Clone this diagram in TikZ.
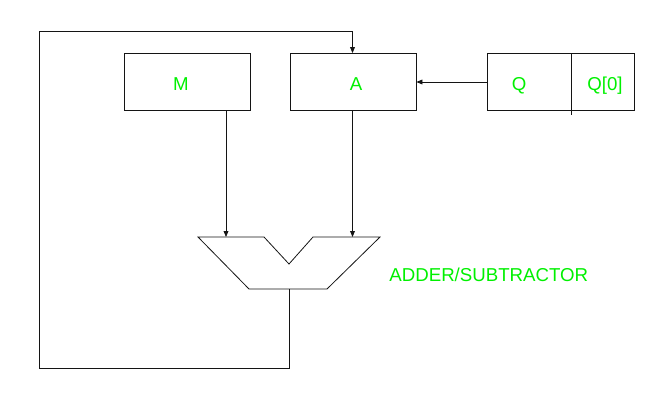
\documentclass[tikz,border=0pt]{standalone}
\usepackage{fontspec}
\setmainfont{Liberation Sans}
\usetikzlibrary{arrows.meta}
\definecolor{lbl}{RGB}{0,240,0}
\definecolor{ln}{RGB}{20,20,20}
\begin{document}
\begin{tikzpicture}[x=0.75pt,y=-0.75pt,
  line width=0.6pt, draw=ln,
  reg/.style={draw=ln, line width=0.6pt, minimum width=126*0.75pt, minimum height=57*0.75pt, inner sep=0pt},
  txt/.style={text=lbl, font=\fontsize{14pt}{16pt}\selectfont, inner sep=0pt, anchor=base},
  arr/.style={-{Triangle[length=4.5pt,width=3.6pt]}}]
\useasboundingbox (0,0) rectangle (659,407);
% registers
\node[reg] (M) at (187,82) {};
\node[reg] (A) at (353,82) {};
\node[reg, minimum width=147*0.75pt] (Q) at (560.5,82) {};
\coordinate (qdivT) at (571,54);
\coordinate (qdivB) at (571,115);
\draw (qdivT) -- (qdivB);
% texts
\node[txt] (tM) at (181,90) {M};
\node[txt] (tA) at (356,90) {A};
\node[txt] (tQ) at (519,90) {Q};
\node[txt] (tQ0) at (605,90) {Q[0]};
\node[txt, anchor=base west] (tALU) at (389,281.5) {ADDER/SUBTRACTOR};
% adder/subtractor shape
\coordinate (aluL) at (226,237);
\coordinate (aluR) at (352.5,237);
\coordinate (aluOut) at (289,289);
\draw[line join=miter] (198,237) -- (264,237) -- (289,264) -- (313,237) -- (380,237)
  -- (327,289) -- (249,289) -- cycle;
% connectors
\draw[arr] (Q.west) -- (A.east);
\draw[arr] (aluL |- M.south) -- (aluL);
\draw[arr] (aluR |- A.south) -- (aluR);
\coordinate (loopBL) at (39,368);
\coordinate (loopTL) at (39,31);
\draw[arr] (aluOut) -- (aluOut |- loopBL) -- (loopBL) -- (loopTL) -- (loopTL -| aluR) -- (aluR |- A.north);
\end{tikzpicture}
\end{document}
